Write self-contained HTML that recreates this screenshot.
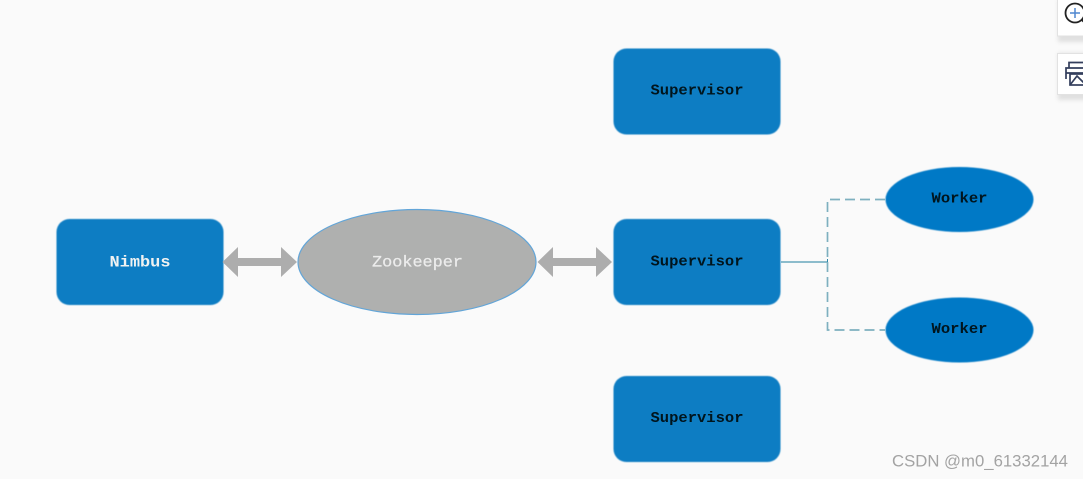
<!DOCTYPE html>
<html><head><meta charset="utf-8"><style>
html,body{margin:0;padding:0;background:#fafafa;width:1083px;height:479px;overflow:hidden}
svg{display:block}
</style></head><body>
<svg width="1083" height="479" viewBox="0 0 1083 479" xmlns="http://www.w3.org/2000/svg">
<defs><filter id="b" x="-20%" y="-20%" width="140%" height="140%"><feGaussianBlur stdDeviation="0.4"/></filter>
<filter id="t" x="-10%" y="-30%" width="120%" height="160%"><feGaussianBlur stdDeviation="0.25"/></filter>
<filter id="s" x="-30%" y="-30%" width="160%" height="160%"><feGaussianBlur stdDeviation="2"/></filter></defs>
<rect width="1083" height="479" fill="#fafafa"/>
<g fill="#0b7dc3" filter="url(#b)">
<rect x="613.500" y="48.500" width="167" height="86" rx="13"/>
<rect x="613.500" y="219" width="167" height="86" rx="13"/>
<rect x="613.500" y="376" width="167" height="86" rx="13"/>
<rect x="56.500" y="219" width="167" height="86" rx="13"/>
</g>
<ellipse cx="417" cy="262" rx="119" ry="52.500" fill="#afb0af" stroke="#62a5d8" stroke-width="1.200"/>
<g fill="#0079c6" filter="url(#b)">
<ellipse cx="959.500" cy="199.500" rx="74" ry="32.500"/>
<ellipse cx="959.500" cy="330" rx="74" ry="32.500"/>
</g>
<g fill="#adadad">
<path d="M222.500 262 L238 247 V258 H281 V247 L297 262 L281 277 V266 H238 V277 Z"/>
<path d="M537.500 262 L553 247 V258 H596 V247 L612 262 L596 277 V266 H553 V277 Z"/>
</g>
<path d="M781 262 H827.500" stroke="#1f7d9f" stroke-width="1" fill="none"/>
<path d="M827.500 259 V265" stroke="#2f87a8" stroke-width="1" fill="none"/>
<path d="M885 199.500 H827.500 V330 H885" stroke="#7eb0bf" stroke-width="1.700" stroke-dasharray="10 5" fill="none"/>
<g font-family="'Liberation Mono',monospace" font-size="15" text-anchor="middle" font-weight="bold" fill="#04121f" filter="url(#t)">
<text x="697" y="94.500" textLength="93" lengthAdjust="spacingAndGlyphs">Supervisor</text>
<text x="697" y="265.500" textLength="93" lengthAdjust="spacingAndGlyphs">Supervisor</text>
<text x="697" y="422" textLength="93" lengthAdjust="spacingAndGlyphs">Supervisor</text>
<text x="959.500" y="202.500" textLength="56" lengthAdjust="spacingAndGlyphs">Worker</text>
<text x="959.500" y="333" textLength="56" lengthAdjust="spacingAndGlyphs">Worker</text>
</g>
<g font-family="'Liberation Mono',monospace" font-size="16" text-anchor="middle" fill="#f0f2f2" filter="url(#t)">
<text x="140" y="266.500" textLength="61" lengthAdjust="spacingAndGlyphs" font-weight="bold">Nimbus</text>
<text x="417.500" y="266.500" textLength="91" lengthAdjust="spacingAndGlyphs" fill="#ececec" stroke="#ececec" stroke-width="0.250">Zookeeper</text>
</g>
<text x="980" y="466.500" text-anchor="middle" font-family="'Liberation Sans',sans-serif" font-size="16.500" fill="#a3a3a3" textLength="176" lengthAdjust="spacingAndGlyphs">CSDN @m0_61332144</text>
<g>
<rect x="1058" y="0" width="30" height="42" fill="#d4d4d4" opacity=".7" filter="url(#s)"/>
<rect x="1058" y="53" width="30" height="47" fill="#d4d4d4" opacity=".7" filter="url(#s)"/>
<rect x="1057.500" y="-2" width="30" height="38" fill="#fff" stroke="#e2e2e2"/>
<rect x="1057.500" y="53.500" width="30" height="41" fill="#fff" stroke="#e2e2e2"/>
<circle cx="1075" cy="13" r="9.500" fill="none" stroke="#222" stroke-width="1.800"/>
<path d="M1075 8 V18 M1070 13 H1080" stroke="#4f86cf" stroke-width="1.500" fill="none"/>
<path d="M1082 20 L1086 24" stroke="#222" stroke-width="2"/>
<g fill="none" stroke="#333e5c" stroke-width="1.700">
<path d="M1069 68 V62.500 H1088"/>
<path d="M1066 79 V68 H1088"/>
<path d="M1066 73 H1088"/>
<rect x="1070" y="74" width="20" height="11"/>
<path d="M1070 85 L1077 76 L1086 85"/>
</g>
</g>
</svg>
</body></html>
